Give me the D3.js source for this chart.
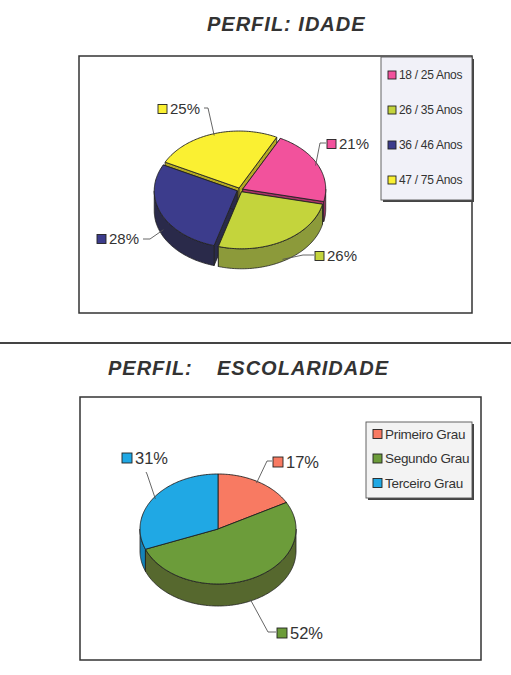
<!DOCTYPE html>
<html><head><meta charset="utf-8">
<script src="https://cdn.jsdelivr.net/npm/d3@7"></script>
<style>body{margin:0;background:#fff} svg{display:block} text{font-family:Arial,"Liberation Sans",sans-serif}</style>
</head><body><svg id="c" width="511" height="675"></svg>
<script>
// ---- data ----
const idadeCategories = ["18 / 25 Anos", "26 / 35 Anos", "36 / 46 Anos", "47 / 75 Anos"];
const idadeValues = [21, 26, 28, 25];
const escCategories = ["Primeiro Grau", "Segundo Grau", "Terceiro Grau"];
const escValues = [17, 52, 31];
const idadeColors = ["#f2529c", "#c4d43c", "#3c3c8c", "#faf032"];
const idadeSideColors = ["#a83466", "#8c9a3a", "#2a2a4a", "#b4aa22"];
const escColors = ["#f87a62", "#6c9c3a", "#20a8e4"];
const escSideColors = ["#b05040", "#56682e", "#1482b8"];

const svg = d3.select("#c");
const ink = "#333";

// ---- helpers ----
function drawPie(g, values, colors, sides, cfg) {
  const toRad = Math.PI / 180;
  const s0 = cfg.start * toRad;
  const pie = d3.pie().sort(null).value(d => d).startAngle(s0).endAngle(s0 + 2 * Math.PI);
  const arcs = pie(values);
  arcs.forEach((d, i) => {
    d.mid = (d.startAngle + d.endAngle) / 2;
    d.off = [cfg.explode * Math.sin(d.mid), -cfg.explode * Math.cos(d.mid) * cfg.ry / cfg.rx];
    d.i = i;
  });
  const P = (a, r, z, off) => [cfg.cx + off[0] + cfg.rx * r * Math.sin(a), cfg.cy + off[1] - cfg.ry * r * Math.cos(a) + z];
  const samples = (a0, a1) => { const n = Math.max(2, Math.ceil(Math.abs(a1 - a0) / 0.02)); return d3.range(n + 1).map(k => a0 + (a1 - a0) * k / n); };
  const line = d3.line();
  const order = arcs.slice().sort((a, b) => (-Math.cos(a.mid)) - (-Math.cos(b.mid)));
  const D = cfg.depth;
  const wallG = g.append("g"), topG = g.append("g");
  order.forEach(d => {
    // radial faces
    [d.startAngle, d.endAngle].forEach(t => {
      wallG.append("path")
        .attr("d", line([P(t, 0, 0, d.off), P(t, 1, 0, d.off), P(t, 1, D, d.off), P(t, 0, D, d.off)]) + "Z")
        .attr("fill", sides[d.i]).attr("stroke", "#222").attr("stroke-width", 0.8).attr("stroke-linejoin", "round");
    });
    // outer wall (front half only)
    [0, 1].forEach(k => {
      const lo = Math.max(d.startAngle, Math.PI / 2 + 2 * Math.PI * k);
      const hi = Math.min(d.endAngle, 3 * Math.PI / 2 + 2 * Math.PI * k);
      if (hi > lo) {
        const top = samples(lo, hi).map(a => P(a, 1, 0, d.off));
        const bot = samples(hi, lo).map(a => P(a, 1, D, d.off));
        wallG.append("path").attr("d", line(top.concat(bot)) + "Z")
          .attr("fill", sides[d.i]).attr("stroke", "#222").attr("stroke-width", 0.8).attr("stroke-linejoin", "round");
      }
    });
  });
  arcs.forEach(d => {
    const pts = [P(0, 0, 0, d.off)].concat(samples(d.startAngle, d.endAngle).map(a => P(a, 1, 0, d.off)));
    topG.append("path").attr("d", line(pts) + "Z")
      .attr("fill", colors[d.i]).attr("stroke", "#222").attr("stroke-width", 0.9).attr("stroke-linejoin", "round");
  });
  // labels
  arcs.forEach(d => {
    const L = cfg.labels[d.i];
    const tgt = P(d.mid, 0.97, L.z * D, d.off);
    g.append("path").attr("d", line([L.start, L.elbow, tgt]))
      .attr("fill", "none").attr("stroke", "#555").attr("stroke-width", 0.9);
    g.append("rect").attr("x", L.sx).attr("y", L.sy - cfg.sw / 2).attr("width", cfg.sw).attr("height", cfg.sw)
      .attr("fill", colors[d.i]).attr("stroke", "#222").attr("stroke-width", 0.9);
    g.append("text").attr("x", L.sx + cfg.sw + 3).attr("y", L.sy + cfg.fs * 0.36)
      .attr("font-size", cfg.fs).attr("fill", ink)
      .text(d3.format(".0%")(d.data / d3.sum(values)));
  });
}

function drawLegend(g, cats, colors, cfg) {
  g.append("rect").attr("x", cfg.x + 2).attr("y", cfg.y + 2).attr("width", cfg.w).attr("height", cfg.h).attr("fill", "#444");
  g.append("rect").attr("x", cfg.x).attr("y", cfg.y).attr("width", cfg.w).attr("height", cfg.h)
    .attr("fill", cfg.fill).attr("stroke", "#555").attr("stroke-width", 0.9);
  const y = d3.scalePoint().domain(cats).range([cfg.y0, cfg.y1]);
  cats.forEach((c, i) => {
    g.append("rect").attr("x", cfg.x + cfg.sx).attr("y", y(c) - cfg.sw / 2).attr("width", cfg.sw).attr("height", cfg.sw)
      .attr("fill", colors[i]).attr("stroke", "#222").attr("stroke-width", 0.9);
    g.append("text").attr("x", cfg.x + cfg.sx + cfg.sw + 3).attr("y", y(c) + cfg.fs * 0.36)
      .attr("font-size", cfg.fs).attr("fill", ink).attr("letter-spacing", cfg.ls).text(c);
  });
}

function title(x, y, t) {
  svg.append("text").attr("x", x).attr("y", y).attr("font-size", 20).attr("font-weight", "bold")
    .attr("font-style", "italic").attr("letter-spacing", 1).attr("fill", ink).text(t);
}

// ---- chart 1 ----
title(207, 31, "PERFIL: IDADE");
svg.append("rect").attr("x", 79).attr("y", 56).attr("width", 393).attr("height", 257)
  .attr("fill", "#fff").attr("stroke", "#333").attr("stroke-width", 1.5);
const g1 = svg.append("g");
drawPie(g1, idadeValues, idadeColors, idadeSideColors, {
  cx: 240, cy: 190, rx: 83, ry: 57, depth: 20, start: 27, explode: 3, sw: 9, fs: 15,
  labels: [
    { sx: 327, sy: 144, start: [326, 143], elbow: [320, 143], z: 0 },
    { sx: 315, sy: 256, start: [314, 255], elbow: [303, 255], z: 1 },
    { sx: 97, sy: 239, start: [143, 239], elbow: [150, 239], z: 0.85 },
    { sx: 158, sy: 109, start: [204, 108], elbow: [208, 108], z: 0 }
  ]
});
drawLegend(svg.append("g"), idadeCategories, idadeColors, {
  x: 381, y: 57, w: 91, h: 143, fill: "#f1f1f8", sx: 7, sw: 8, fs: 12, ls: -0.3, y0: 75, y1: 180
});

// separator
svg.append("line").attr("x1", 0).attr("x2", 511).attr("y1", 343).attr("y2", 343).attr("stroke", "#444").attr("stroke-width", 2);

// ---- chart 2 ----
title(108, 375, "PERFIL:");
title(217, 375, "ESCOLARIDADE");
svg.append("rect").attr("x", 80).attr("y", 397).attr("width", 401).attr("height", 263)
  .attr("fill", "#fff").attr("stroke", "#333").attr("stroke-width", 1.5);
const g2 = svg.append("g");
drawPie(g2, escValues, escColors, escSideColors, {
  cx: 218, cy: 529, rx: 78, ry: 55, depth: 22, start: 0, explode: 0, sw: 10, fs: 16.5,
  labels: [
    { sx: 273, sy: 462, start: [272, 461], elbow: [267, 461], z: 0 },
    { sx: 277, sy: 633, start: [276, 632], elbow: [268, 632], z: 1 },
    { sx: 122, sy: 458, start: [146, 472], elbow: [147, 474], z: 0 }
  ]
});
drawLegend(svg.append("g"), escCategories, escColors, {
  x: 366, y: 422, w: 106, h: 76, fill: "#f3f3f3", sx: 7, sw: 9, fs: 13.5, ls: -0.3, y0: 434, y1: 483
});
</script></body></html>
